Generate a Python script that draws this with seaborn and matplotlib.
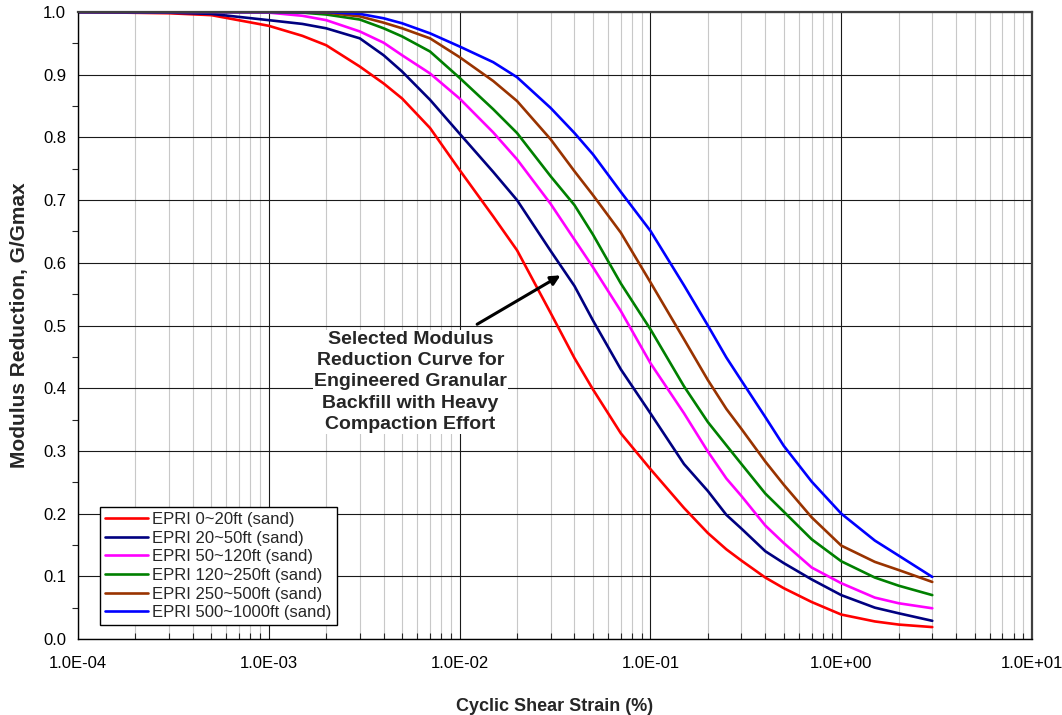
import matplotlib
matplotlib.use("Agg")
import matplotlib.pyplot as plt
import matplotlib.ticker as mticker
import numpy as np
import pandas as pd
import seaborn as sns

STRAIN = [1e-4, 3e-4, 5e-4, 1e-3, 1.5e-3, 2e-3, 3e-3, 4e-3, 5e-3, 7e-3,
          1e-2, 1.5e-2, 2e-2, 3e-2, 4e-2, 5e-2, 7e-2, 0.1, 0.15, 0.2,
          0.25, 0.3, 0.4, 0.5, 0.7, 1.0, 1.5, 2.0, 3.0]

# G/Gmax for each EPRI sand curve
G_0_20 = [1.0, 0.998, 0.995, 0.978, 0.962, 0.947, 0.913, 0.886, 0.862, 0.815,
          0.748, 0.674, 0.62, 0.52, 0.448, 0.398, 0.328, 0.271, 0.209, 0.169,
          0.143, 0.125, 0.098, 0.081, 0.059, 0.039, 0.028, 0.023, 0.019]
G_20_50 = [1.0, 0.999, 0.997, 0.987, 0.981, 0.974, 0.958, 0.931, 0.905, 0.86,
           0.806, 0.745, 0.7, 0.619, 0.563, 0.508, 0.43, 0.36, 0.279, 0.236,
           0.198, 0.176, 0.14, 0.121, 0.095, 0.07, 0.05, 0.041, 0.029]
G_50_120 = [1.0, 1.0, 1.0, 0.999, 0.994, 0.987, 0.969, 0.951, 0.931, 0.902,
            0.862, 0.808, 0.765, 0.694, 0.637, 0.593, 0.523, 0.44, 0.36, 0.299,
            0.256, 0.228, 0.181, 0.153, 0.114, 0.089, 0.066, 0.057, 0.049]
G_120_250 = [1.0, 1.0, 1.0, 1.0, 0.999, 0.996, 0.988, 0.974, 0.961, 0.937,
             0.895, 0.845, 0.807, 0.738, 0.692, 0.645, 0.567, 0.494, 0.403, 0.346,
             0.309, 0.279, 0.232, 0.203, 0.159, 0.124, 0.098, 0.085, 0.07]
G_250_500 = [1.0, 1.0, 1.0, 1.0, 1.0, 0.999, 0.993, 0.983, 0.974, 0.958,
             0.928, 0.89, 0.858, 0.797, 0.746, 0.708, 0.648, 0.569, 0.478, 0.413,
             0.367, 0.335, 0.283, 0.246, 0.194, 0.149, 0.123, 0.11, 0.091]
G_500_1000 = [1.0, 1.0, 1.0, 1.0, 1.0, 1.0, 0.997, 0.99, 0.982, 0.966,
              0.945, 0.92, 0.896, 0.847, 0.807, 0.773, 0.713, 0.651, 0.564, 0.50,
              0.449, 0.412, 0.354, 0.308, 0.251, 0.20, 0.157, 0.133, 0.099]

LABELS = ["EPRI 0~20ft (sand)", "EPRI 20~50ft (sand)", "EPRI 50~120ft (sand)",
          "EPRI 120~250ft (sand)", "EPRI 250~500ft (sand)", "EPRI 500~1000ft (sand)"]
COLORS = ["#FF0000", "#000080", "#FF00FF", "#008000", "#993300", "#0000FF"]
SERIES = [G_0_20, G_20_50, G_50_120, G_120_250, G_250_500, G_500_1000]

X_TICKS = [1e-4, 1e-3, 1e-2, 1e-1, 1e0, 1e1]
X_TICK_LABELS = ["1.0E-04", "1.0E-03", "1.0E-02", "1.0E-01", "1.0E+00", "1.0E+01"]

NOTE = "Selected Modulus\nReduction Curve for\nEngineered Granular\nBackfill with Heavy\nCompaction Effort"

sns.set_style("white")
plt.rcParams["font.family"] = ["Liberation Sans", "DejaVu Sans"]

frames = []
for label, values in zip(LABELS, SERIES):
    frames.append(pd.DataFrame({"strain": STRAIN, "G": values, "curve": label}))
df = pd.concat(frames, ignore_index=True)

fig = plt.figure(figsize=(10.62, 7.15), dpi=100)
ax = fig.add_axes([0.0734, 0.1063, 0.8984, 0.8769])

sns.lineplot(data=df, x="strain", y="G", hue="curve", hue_order=LABELS,
             palette=dict(zip(LABELS, COLORS)), estimator=None, sort=False,
             linewidth=1.9, ax=ax)

ax.set_xscale("log")
ax.set_xlim(1e-4, 1e1)
ax.set_ylim(0, 1.0)

ax.set_xticks(X_TICKS)
ax.set_xticklabels(X_TICK_LABELS)
ax.xaxis.set_minor_locator(mticker.LogLocator(base=10, subs=np.arange(2, 10), numticks=20))
ax.xaxis.set_minor_formatter(mticker.NullFormatter())
ax.set_yticks(np.arange(0, 1.01, 0.1))
ax.yaxis.set_major_formatter(mticker.FormatStrFormatter("%.1f"))
ax.yaxis.set_minor_locator(mticker.MultipleLocator(0.05))

ax.grid(which="major", axis="both", color="#1a1a1a", linewidth=0.8)
ax.grid(which="minor", axis="x", color="#c8c8c8", linewidth=0.8)
ax.set_axisbelow(True)

ax.tick_params(axis="both", which="major", labelsize=12, colors="black", length=5,
               direction="out", width=0.8)
ax.tick_params(axis="x", which="major", direction="inout", length=8, pad=8)
ax.tick_params(axis="x", which="minor", direction="in", length=4, width=0.8, bottom=True)
ax.tick_params(axis="y", which="minor", direction="out", length=4, width=0.8, left=True)

for side in ["left", "bottom"]:
    ax.spines[side].set_color("black")
    ax.spines[side].set_linewidth(1.0)
for side in ["top", "right"]:
    ax.spines[side].set_color("#404040")
    ax.spines[side].set_linewidth(1.6)

ax.set_xlabel("Cyclic Shear Strain (%)", fontsize=13, fontweight="bold", labelpad=20)
ax.set_ylabel("Modulus Reduction, G/Gmax", fontsize=15, fontweight="bold", labelpad=10)

ax.legend(loc="lower left", bbox_to_anchor=(0.023, 0.022), fontsize=12,
          frameon=True, fancybox=False, edgecolor="black", framealpha=1,
          handlelength=2.6, handletextpad=0.25, labelspacing=0.22,
          borderpad=0.3, borderaxespad=0)

# note text and its arrow
ax.text(0.00552, 0.41, NOTE, ha="center", va="center", fontsize=14,
        fontweight="bold", linespacing=1.32,
        bbox=dict(facecolor="white", edgecolor="none", pad=1))
ax.annotate("", xy=(0.0338, 0.58), xytext=(0.01236, 0.502),
            arrowprops=dict(arrowstyle="-|>", color="black", lw=2.2, mutation_scale=14,
                            shrinkA=0, shrinkB=0))

fig.savefig("out.png", dpi=100, facecolor="white")
